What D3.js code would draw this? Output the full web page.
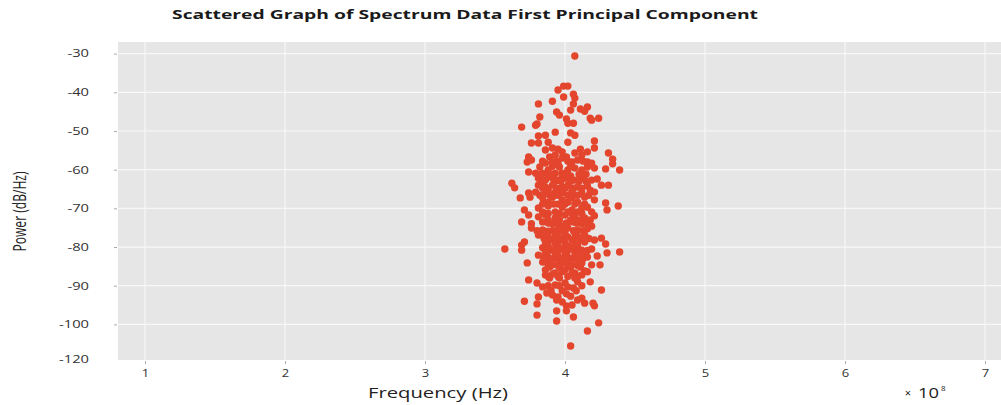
<!DOCTYPE html>
<html>
<head>
<meta charset="utf-8">
<script src="https://cdn.jsdelivr.net/npm/d3@7"></script>
<style>
  html, body { margin: 0; padding: 0; background: #ffffff; }
  svg { display: block; }
</style>
</head>
<body>
<svg id="chart" width="1001" height="405"></svg>
<script>
// ---------- data (frequency in units of 1e8 Hz, power in dB/Hz) ----------
const title = "Scattered Graph of Spectrum Data First Principal Component";
const xLabel = "Frequency (Hz)";
const yLabel = "Power (dB/Hz)";
const xTicks = [1, 2, 3, 4, 5, 6, 7];
const yTickValues = [-30, -40, -50, -60, -70, -80, -90, -100, -109];
const yTickLabels = ["-30", "-40", "-50", "-60", "-70", "-80", "-90", "-100", "-120"];
const xDomain = [0.807, 7.114];
const yDomain = [-109.2, -27];

const pc1 = [
  [4.07,-30.6],[3.99,-38.4],[4.02,-38.4],[3.95,-39.4],[3.99,-41.2],[4.06,-40.5],[4.07,-41.5],[3.91,-42.3],
  [3.81,-43.0],[4.06,-43.0],[4.11,-44.3],[4.16,-43.8],[4.04,-44.6],[3.94,-45.1],[3.96,-45.9],[4.14,-44.9],
  [3.82,-46.4],[4.18,-46.7],[4.24,-46.7],[4.01,-46.9],[3.80,-48.2],[3.69,-49.0],[3.79,-48.5],[4.02,-48.0],
  [4.06,-48.0],[4.19,-47.2],
  [3.81,-51.3],[3.86,-51.1],[3.93,-50.3],[4.04,-50.5],[4.07,-51.1],
  [3.76,-53.1],[3.81,-53.1],[3.88,-52.9],[4.02,-52.9],[4.21,-52.6],
  [3.86,-54.9],[3.91,-54.4],[3.95,-54.7],[3.98,-55.4],[4.11,-54.7],[4.21,-54.4],[4.31,-55.7],
  [3.74,-56.7],[3.73,-58.0],[3.76,-57.5],[3.89,-56.7],[3.93,-56.2],[3.98,-57.0],[4.01,-56.7],[4.07,-55.7],
  [4.12,-56.2],[4.16,-55.4],
  [3.86,-58.3],[3.91,-58.0],[3.95,-58.3],[4.05,-58.0],[4.09,-57.5],[4.16,-58.0],[4.19,-58.3],
  [3.84,-57.8],[3.94,-57.8],[4.02,-57.8],[4.13,-57.8],
  [4.34,-57.3],[4.34,-58.5],[4.29,-59.8],[4.39,-60.1],
  [3.82,-59.3],[3.91,-59.1],[3.96,-59.3],[4.04,-59.1],
  [3.74,-60.6],[3.79,-60.9],[3.84,-60.9],[3.88,-60.1],[3.93,-60.9],[3.98,-60.9],[4.02,-60.1],[4.07,-59.6],
  [4.12,-60.1],[4.16,-59.3],[4.21,-59.6],
  [3.83,-61.2],[3.92,-61.2],[4.01,-61.2],[4.10,-61.2],[4.15,-61.2],
  [3.88,-61.6],[3.98,-61.6],[4.04,-61.6],
  [3.81,-62.2],[3.86,-62.7],[3.91,-62.2],[3.95,-62.7],[4.00,-62.2],[4.07,-62.7],[4.12,-62.2],[4.19,-62.7],
  [4.23,-62.4],
  [3.84,-63.0],[3.93,-63.0],[3.97,-63.0],[4.04,-63.0],[4.10,-63.0],[4.15,-63.0],
  [3.62,-63.5],[3.64,-64.7],
  [3.81,-64.0],[3.86,-64.5],[3.91,-64.0],[3.98,-64.5],[4.02,-64.0],[4.09,-64.5],[4.16,-64.2],[4.26,-64.0],
  [4.31,-64.0],
  [3.84,-64.8],[3.94,-64.8],[4.00,-64.8],[4.06,-64.8],[4.12,-64.8],
  [3.88,-65.3],[3.95,-65.3],[4.05,-65.3],[4.18,-65.3],
  [3.74,-66.0],[3.79,-65.8],[3.86,-66.0],[3.93,-65.8],[3.98,-66.0],[4.05,-65.8],[4.12,-66.0],[4.21,-65.8],
  [3.82,-66.6],[3.89,-66.6],[3.95,-66.6],[4.02,-66.6],[4.09,-66.6],[4.17,-66.6],
  [3.68,-67.3],[3.75,-67.1],[3.84,-67.3],[3.91,-67.1],[3.98,-67.8],[4.05,-67.3],[4.14,-67.1],[4.21,-67.8],
  [4.29,-68.6],
  [3.88,-68.4],[4.02,-68.4],[4.09,-68.4],
  [3.84,-68.9],[3.92,-68.9],[3.95,-68.9],[4.00,-68.9],[4.07,-68.9],[4.14,-68.9],
  [4.38,-69.4],[3.71,-70.4],
  [3.81,-69.9],[3.88,-69.4],[3.98,-69.7],[4.05,-70.4],[4.12,-69.9],[4.16,-69.7],[4.30,-70.4],
  [3.84,-70.9],[3.93,-70.9],[4.02,-70.9],[4.09,-70.9],[4.19,-70.9],
  [3.88,-71.3],[3.96,-71.3],[4.05,-71.3],[4.12,-71.3],
  [3.74,-71.7],[3.81,-72.2],[3.86,-71.7],[3.93,-72.5],[4.00,-71.7],[4.07,-72.2],[4.14,-72.5],[4.21,-71.9],
  [3.88,-73.0],[3.96,-73.0],[4.04,-73.0],[4.11,-73.0],[4.18,-73.0],
  [3.69,-73.5],[3.76,-74.0],[3.84,-73.5],[3.91,-74.0],[3.98,-74.6],[4.05,-73.5],[4.12,-74.0],[4.19,-74.6],
  [3.88,-73.8],[3.95,-73.8],[4.01,-73.8],[4.08,-73.8],[4.15,-73.8],
  [3.76,-75.1],[3.84,-75.6],[3.88,-75.9],[3.95,-75.3],[4.02,-75.1],[4.09,-75.6],[4.16,-75.3],
  [3.80,-75.8],[3.91,-75.8],[3.99,-75.8],[4.06,-75.8],[4.13,-75.8],
  [3.86,-76.4],[3.93,-76.4],[4.00,-76.4],[4.07,-76.4],
  [3.81,-76.9],[3.88,-77.4],[3.95,-76.9],[4.02,-77.4],[4.09,-77.2],[4.14,-76.9],
  [3.85,-77.8],[3.92,-77.8],[3.99,-77.8],[4.07,-77.8],[4.17,-77.8],
  [4.21,-78.2],[4.26,-77.7],[3.71,-78.7],[3.69,-79.5],
  [3.89,-78.2],[3.96,-78.2],[4.05,-78.2],[4.11,-78.2],
  [3.86,-78.7],[3.93,-79.2],[4.00,-79.0],[4.07,-79.5],[4.14,-78.7],
  [3.88,-79.7],[3.95,-79.7],[4.02,-79.7],[4.09,-79.7],
  [3.57,-80.5],[3.69,-80.8],
  [3.84,-80.2],[3.91,-80.8],[3.98,-80.5],[4.05,-80.2],[4.12,-80.8],[4.19,-80.5],
  [3.88,-80.9],[3.95,-80.9],[4.02,-80.9],[4.09,-80.9],[4.16,-80.9],
  [4.29,-79.2],[4.30,-81.5],[4.39,-81.3],
  [3.86,-81.5],[3.93,-81.5],[4.00,-81.5],[4.07,-81.5],[4.14,-81.5],
  [3.81,-82.1],[3.88,-82.6],[3.95,-82.3],[4.02,-82.6],[4.09,-82.1],[4.16,-82.6],[4.23,-82.3],
  [3.85,-82.9],[3.92,-82.9],[3.99,-82.9],[4.06,-82.9],[4.13,-82.9],
  [3.88,-83.3],[3.95,-83.3],[4.02,-83.3],[4.09,-83.3],
  [3.73,-84.1],
  [3.84,-83.9],[3.91,-84.6],[3.98,-84.1],[4.05,-84.6],[4.12,-84.1],[4.19,-84.6],[4.25,-84.6],
  [3.88,-84.8],[3.95,-84.8],[4.02,-84.8],[4.09,-84.8],
  [3.89,-85.2],[3.96,-85.2],[4.04,-85.2],[4.11,-85.2],
  [3.86,-85.9],[3.93,-86.7],[4.00,-85.9],[4.07,-86.7],[4.14,-86.2],
  [3.86,-87.2],[3.91,-87.0],[3.98,-86.4],[4.05,-86.7],[4.12,-87.2],[4.16,-86.4],
  [3.88,-87.6],[3.95,-87.6],[4.02,-87.6],[4.09,-87.6],
  [3.89,-88.0],[3.96,-88.0],[4.07,-88.0],
  [3.74,-88.5],[3.80,-89.3],[3.84,-90.3],[3.93,-89.8],[4.00,-89.3],[4.02,-90.3],[4.06,-90.6],[4.09,-89.0],
  [4.18,-89.0],[4.26,-91.1],
  [3.88,-90.0],[3.96,-90.0],[4.12,-90.0],
  [3.90,-91.3],[3.98,-91.3],[4.08,-91.3],
  [3.87,-91.9],[3.91,-92.4],[3.95,-92.9],[3.94,-93.7],[3.98,-94.2],[4.01,-92.1],[4.04,-92.7],
  [3.81,-92.9],[3.71,-94.0],[3.80,-94.7],
  [4.09,-93.7],[4.12,-93.2],[4.14,-94.5],[4.05,-95.0],[4.01,-95.2],[4.20,-94.5],[4.21,-95.2],
  [3.94,-96.5],[4.01,-96.5],[3.80,-97.6],[4.06,-98.1],[3.94,-99.1],[4.24,-99.6],[4.16,-101.7],[4.04,-105.6]
];

// ---------- layout ----------
const panel = { left: 118, right: 1001, top: 42, bottom: 360 };
const svg = d3.select("#chart");
const x = d3.scaleLinear().domain(xDomain).range([panel.left, panel.right]);
const y = d3.scaleLinear().domain(yDomain).range([panel.bottom, panel.top]);

function stretch(sel, k) {
  sel.each(function () {
    const w = this.getComputedTextLength();
    d3.select(this).attr("textLength", w * k).attr("lengthAdjust", "spacingAndGlyphs");
  });
}

// panel
svg.append("rect")
  .attr("x", panel.left).attr("y", panel.top)
  .attr("width", panel.right - panel.left).attr("height", panel.bottom - panel.top)
  .attr("fill", "#e6e6e6");

// grid
const gridY = yTickValues.filter(v => v >= -100);
svg.append("g").selectAll("line").data(gridY).join("line")
  .attr("x1", panel.left).attr("x2", panel.right)
  .attr("y1", d => y(d)).attr("y2", d => y(d))
  .attr("stroke", "#f7f7f7").attr("stroke-width", 1.2);
svg.append("g").selectAll("line").data(xTicks).join("line")
  .attr("x1", d => x(d)).attr("x2", d => x(d))
  .attr("y1", panel.top).attr("y2", panel.bottom)
  .attr("stroke", "#f7f7f7").attr("stroke-width", 1.2);

// axes
const xAxis = d3.axisBottom(x).tickValues(xTicks).tickFormat(d3.format("d")).tickSize(3).tickPadding(6);
const gx = svg.append("g").attr("transform", `translate(0,${panel.bottom + 1})`).call(xAxis);
gx.select(".domain").remove();
gx.selectAll(".tick line").attr("stroke", "#aaaaaa");
gx.selectAll(".tick text")
  .attr("font-family", "'Open Sans', sans-serif").attr("font-size", 10)
  .attr("fill", "#333333").attr("dy", "0.7em").call(stretch, 1.3);

const yAxis = d3.axisLeft(y).tickValues(yTickValues)
  .tickFormat((d, i) => yTickLabels[i]).tickSize(3).tickPadding(25);
const gy = svg.append("g").attr("transform", `translate(${panel.left - 1},0)`).call(yAxis);
gy.select(".domain").remove();
gy.selectAll(".tick line").attr("stroke", "#aaaaaa")
  .attr("opacity", d => d >= -100 ? 1 : 0);
gy.selectAll(".tick text")
  .attr("font-family", "'Open Sans', sans-serif").attr("font-size", 10.5)
  .attr("fill", "#333333").call(stretch, 1.4);

// points
svg.append("g").selectAll("circle").data(pc1).join("circle")
  .attr("cx", d => x(d[0])).attr("cy", d => y(d[1]))
  .attr("r", 3.7).attr("fill", "#e4452d");

// title
svg.append("text").text(title)
  .attr("x", 172).attr("y", 18.5)
  .attr("font-family", "'Open Sans', sans-serif").attr("font-weight", "bold").attr("font-size", 12)
  .attr("fill", "#1a1a1a")
  .attr("textLength", 586).attr("lengthAdjust", "spacingAndGlyphs");

// x label
svg.append("text").text(xLabel)
  .attr("x", 368).attr("y", 397.5)
  .attr("font-family", "'Open Sans', sans-serif").attr("font-size", 14)
  .attr("fill", "#222222")
  .attr("textLength", 140).attr("lengthAdjust", "spacingAndGlyphs");

// multiplier
svg.append("text").text("\u00d7")
  .attr("x", 908).attr("y", 397).attr("text-anchor", "middle")
  .attr("font-family", "'Open Sans', sans-serif").attr("font-size", 11).attr("fill", "#222222");
svg.append("text").text("10")
  .attr("x", 918).attr("y", 397.5)
  .attr("font-family", "'Open Sans', sans-serif").attr("font-size", 15).attr("fill", "#222222")
  .attr("textLength", 21).attr("lengthAdjust", "spacingAndGlyphs");
svg.append("text").text("8")
  .attr("x", 941).attr("y", 391)
  .attr("font-family", "'Open Sans', sans-serif").attr("font-size", 8).attr("fill", "#222222");

// y label
svg.append("text").text(yLabel)
  .attr("transform", "translate(26,211.5) rotate(-90)")
  .attr("text-anchor", "middle")
  .attr("font-family", "'Open Sans', sans-serif").attr("font-size", 19)
  .attr("fill", "#222222")
  .attr("textLength", 80).attr("lengthAdjust", "spacingAndGlyphs");
</script>
</body>
</html>
